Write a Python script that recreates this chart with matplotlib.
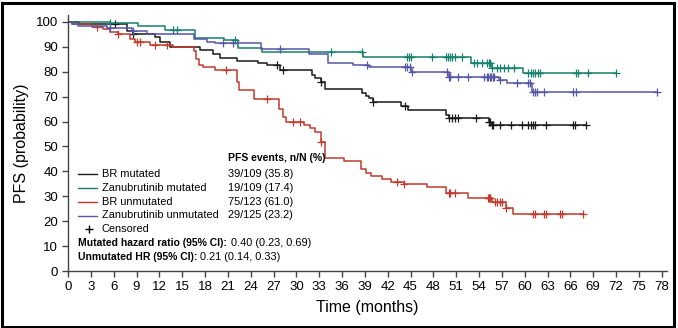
import matplotlib
matplotlib.use("Agg")
import matplotlib.pyplot as plt
import numpy as np
from matplotlib.lines import Line2D
from matplotlib.patches import Rectangle

plt.rcParams['font.family'] = ['Liberation Sans Narrow', 'Liberation Sans', 'DejaVu Sans']

# step curves: time where each level starts, level (%), last follow-up time
br_mut_t = [0, 1.5, 2.5, 7.7, 8.6, 11.4, 12.1, 13.4, 17.4, 19.1, 20.0, 22.2, 25.0, 26.2, 27.9,
            32.1, 32.5, 33.2, 33.8, 38.6, 39.1, 39.5, 40.1, 43.7, 44.7, 49.6, 50.0, 55.3, 55.6]
br_mut_s = [100, 99.3, 99, 96.5, 95, 93.8, 92.1, 90.1, 88.8, 87, 85.4, 84.5, 83.4, 82.7, 80.7,
            78.7, 77.4, 76, 73, 71.4, 70.3, 69.4, 68, 66.3, 64.7, 62.7, 61.3, 60, 58.5]
br_mut_end = 68.0
br_mut_cens = [6.2, 8.6, 27.5, 28.3, 33.2, 40.1, 44.3, 50.0, 50.4, 50.8, 51.2, 53.6, 55.3, 55.5,
               55.7, 55.9, 56.8, 58.2, 59.7, 60.5, 60.8, 61.1, 61.4, 62.8, 66.4, 66.6, 68.0]

zanu_mut_t = [0, 5.5, 9.2, 12.8, 16.7, 20.5, 22.4, 25.5, 38.8, 52.9, 55.7, 59.8]
zanu_mut_s = [100, 99.5, 98.4, 96.8, 93.5, 92.6, 89.4, 87.8, 86.1, 83.7, 81.4, 79.4]
zanu_mut_end = 72.0
zanu_mut_cens = [5.5, 13.8, 14.3, 21.9, 34.5, 38.6, 44.6, 44.8, 45.1, 47.8, 49.6, 49.9, 50.2,
                 50.5, 50.9, 51.8, 53.3, 53.7, 54.4, 55.1, 55.3, 55.5, 55.7, 56.4, 56.8, 57.3,
                 57.8, 58.6, 60.5, 60.8, 61.1, 61.4, 61.7, 62.0, 66.7, 67.0, 68.3, 72.0]

br_unm_t = [0, 0.5, 3.1, 4.6, 5.5, 6.6, 8.2, 8.8, 10.8, 13.8, 16.5, 16.8, 17.2, 17.8, 19.3,
            22.2, 22.5, 24.4, 27.7, 28.2, 28.6, 31.0, 31.8, 32.5, 33.2, 33.8, 36.2, 38.5, 39.2,
            39.8, 41.3, 42.4, 44.2, 47.2, 49.7, 52.5, 55.7, 57.5, 58.5]
br_unm_s = [100, 99, 98, 97, 96, 95, 93.2, 91.8, 90.8, 89.8, 88.4, 85, 82.7, 82, 80.7,
            76, 72.5, 69, 65, 62, 60, 58.5, 57.5, 56, 52, 45.2, 44, 41, 39.2,
            38.1, 36.9, 35.9, 35.1, 33.9, 31.2, 29.2, 27.8, 25.2, 22.9]
br_unm_end = 67.6
br_unm_cens = [3.8, 6.6, 9.0, 9.5, 11.4, 13.0, 20.8, 26.2, 29.5, 30.5, 33.2, 43.2, 44.2, 50.0,
               50.2, 50.9, 55.2, 55.3, 55.4, 55.5, 56.1, 56.4, 56.7, 57.0, 57.5, 61.1, 61.3,
               62.5, 62.8, 64.6, 64.9, 67.6]

zanu_unm_t = [0, 0.5, 1.3, 5.1, 8.4, 10.4, 16.5, 18.3, 19.3, 25.3, 31.6, 34.2, 37.5, 39.5,
              45.0, 50.0, 56.6, 57.7, 61.0]
zanu_unm_s = [100, 99.2, 98.4, 97.5, 96.4, 95, 93, 92, 91.4, 89, 87, 83.4, 82.7, 81.8,
              80, 78, 76.7, 75.4, 71.8]
zanu_unm_end = 77.4
zanu_unm_cens = [5.5, 8.6, 20.4, 21.7, 27.9, 39.3, 44.3, 44.6, 44.9, 45.2, 49.8, 50.0, 50.2,
                 51.3, 52.5, 54.6, 55.0, 55.2, 55.4, 55.6, 55.8, 56.0, 56.8, 59.0, 60.5, 60.7,
                 61.1, 61.3, 61.6, 62.5, 66.4, 66.7, 77.4]

labels = ['BR mutated', 'Zanubrutinib mutated', 'BR unmutated', 'Zanubrutinib unmutated']
events = ['39/109 (35.8)', '19/109 (17.4)', '75/123 (61.0)', '29/125 (23.2)']
colors = ['#1a1a1a', '#16806e', '#c0392b', '#5656a8']

curves = [(br_mut_t, br_mut_s, br_mut_end, br_mut_cens),
          (zanu_mut_t, zanu_mut_s, zanu_mut_end, zanu_mut_cens),
          (br_unm_t, br_unm_s, br_unm_end, br_unm_cens),
          (zanu_unm_t, zanu_unm_s, zanu_unm_end, zanu_unm_cens)]

fig = plt.figure(figsize=(6.78, 3.28), dpi=100)
ax = fig.add_axes([68/678, 1 - 271/328, (666.7 - 68)/678, (271 - 15)/328])

for (t, s, end, cens), c in zip(curves, colors):
    tt = np.array(t + [end])
    ss = np.array(s + [s[-1]])
    ax.step(tt, ss, where='post', color=c, lw=1.1)
    idx = np.searchsorted(t, cens, side='right') - 1
    ax.plot(cens, np.array(s)[idx], ls='none', marker='+', ms=6, mew=0.9, color=c)

ax.set_xlim(0, 78.66)
ax.set_ylim(0, 102.8)
ax.set_xticks(np.arange(0, 79, 3))
ax.set_yticks(np.arange(0, 101, 10))
ax.spines['top'].set_visible(False)
ax.spines['right'].set_visible(False)
for sp in ['left', 'bottom']:
    ax.spines[sp].set_color('#444444')
    ax.spines[sp].set_linewidth(1.0)
ax.tick_params(direction='out', length=4, width=1.0, color='#444444', labelsize=9.5, pad=3)
ax.set_xlabel('Time (months)', fontsize=11.5, labelpad=5)
ax.set_ylabel('PFS (probability)', fontsize=11.5, labelpad=5)

# legend block, placed in pixel coordinates of the figure
W, H = 678, 328
def fx(px):
    return px / W
def fy(py):
    return 1 - py / H

fs = 7.9
fsb = 7.5
fig.text(fx(228), fy(158), 'PFS events, n/N (%)', fontsize=fsb, fontweight='bold', va='center')
rows = [174, 188, 202, 215.5]
for lab, ev, c, ry in zip(labels, events, colors, rows):
    fig.add_artist(Line2D([fx(78), fx(97)], [fy(ry), fy(ry)], color=c, lw=1.0))
    fig.text(fx(101.5), fy(ry), lab, fontsize=fs, va='center')
    fig.text(fx(228), fy(ry), ev, fontsize=fs, va='center')
fig.add_artist(Line2D([fx(89)], [fy(229)], marker='+', ms=6, mew=1.0, color='black', ls='none'))
fig.text(fx(101.5), fy(229), 'Censored', fontsize=fs, va='center')
fig.text(fx(77.5), fy(243), 'Mutated hazard ratio (95% CI):', fontsize=fsb, fontweight='bold', va='center')
fig.text(fx(231), fy(243), '0.40 (0.23, 0.69)', fontsize=fs, va='center')
fig.text(fx(77.5), fy(256.5), 'Unmutated HR (95% CI):', fontsize=fsb, fontweight='bold', va='center')
fig.text(fx(200), fy(256.5), '0.21 (0.14, 0.33)', fontsize=fs, va='center')

# outer frame
fig.add_artist(Rectangle((1.5/W, 1.5/H), 1 - 3/W - 3/W, 1 - 3/H - 1.5/H,
                         transform=fig.transFigure, fill=False, lw=2.2, ec='black'))

fig.savefig('out.png', dpi=100)
